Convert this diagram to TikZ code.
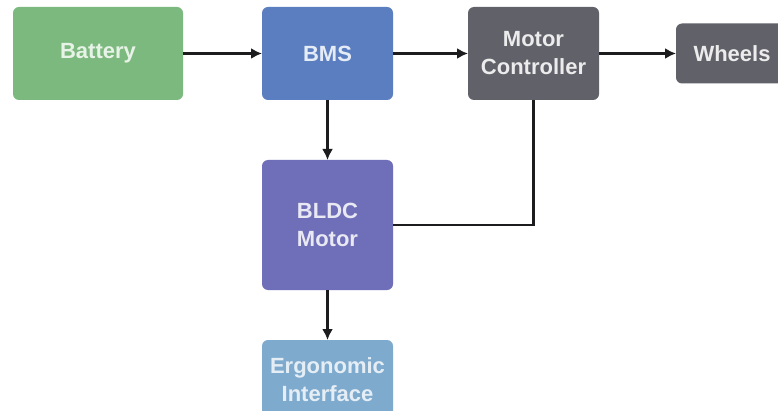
\documentclass[tikz,border=0pt]{standalone}
\usepackage{fontspec}
\setmainfont{Liberation Sans}
\usepackage{tikz}
\usetikzlibrary{arrows.meta}
\usetikzlibrary{positioning}
\definecolor{battgreen}{RGB}{124,185,126}
\definecolor{bmsblue}{RGB}{90,126,192}
\definecolor{ctrlgray}{RGB}{96,97,105}
\definecolor{motorpurple}{RGB}{111,110,184}
\definecolor{ergoblue}{RGB}{126,170,206}
\definecolor{wire}{RGB}{28,28,30}

\begin{document}
\begin{tikzpicture}[->,>={Latex[length=11pt,width=11pt]},line width=2.4pt,
  block/.style={rectangle,rounded corners=6pt,inner sep=0pt,outer sep=0pt,align=center,
    minimum width=131pt,minimum height=93pt,font=\fontsize{22}{28}\selectfont\bfseries},
  battbox/.style={block,fill=battgreen,text=white!82!battgreen,minimum width=170pt},
  bmsbox/.style={block,fill=bmsblue,text=white!85!bmsblue},
  ctrlbox/.style={block,fill=ctrlgray,text=white!88!ctrlgray},
  wheelbox/.style={block,fill=ctrlgray,text=white!88!ctrlgray,minimum width=112pt,minimum height=60pt},
  motorbox/.style={block,fill=motorpurple,text=white!85!motorpurple,minimum height=130pt},
  ergobox/.style={block,fill=ergoblue,text=white!80!ergoblue,minimum height=80pt},
  every edge/.style={draw=wire}]
\clip (0,0) rectangle (778pt,410pt);
\fill[white] (0,0) rectangle (778pt,410pt);

\node[battbox] (bat) at (98pt,356.5pt) {Battery};
\node[bmsbox] (bms) [right=79pt of bat] {BMS};
\node[ctrlbox] (ctrl) [right=75pt of bms] {Motor\\Controller};
\node[wheelbox] (wheel) [right=77pt of ctrl] {Wheels};
\node[motorbox] (bldc) [below=60pt of bms] {BLDC\\Motor};
\node[ergobox] (ergo) [below=50pt of bldc] {Ergonomic\\Interface};

\path (bat) edge (bms)
  (bms) edge (ctrl)
    edge (bldc)
  (ctrl) edge (wheel)
  (bldc) edge (ergo)
;
\draw[-,wire] (ctrl) |- (bldc);
\end{tikzpicture}
\end{document}
